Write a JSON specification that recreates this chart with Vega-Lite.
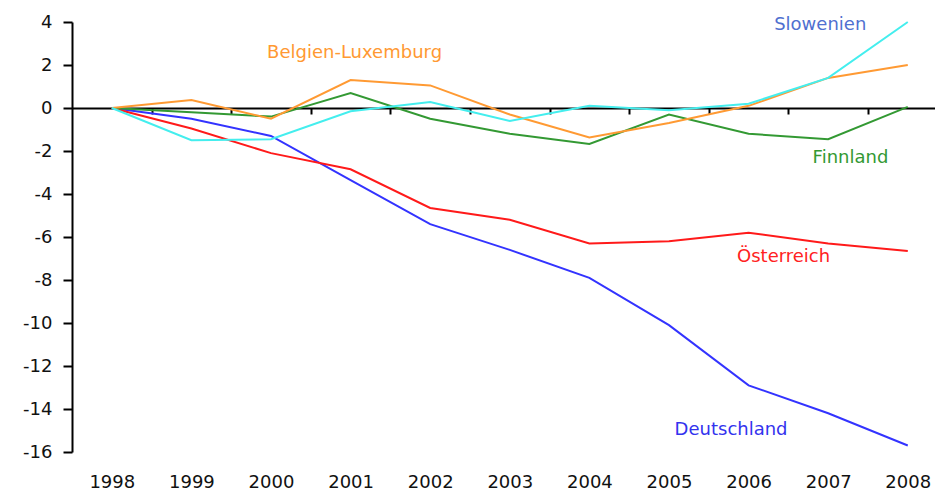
{
  "$schema": "https://vega.github.io/schema/vega-lite/v6.json",
  "width": 863,
  "height": 430,
  "autosize": {"type": "none"},
  "padding": {"left": 72, "top": 22, "right": 0, "bottom": 41},
  "background": "white",
  "config": {"view": {"stroke": null}, "font": "DejaVu Sans", "axis": {"grid": false}},
  "datasets": {
    "reihen": [
      {"Land": "Deutschland", "Jahr": 1998, "Wert": 0},
      {"Land": "Deutschland", "Jahr": 1999, "Wert": -0.5},
      {"Land": "Deutschland", "Jahr": 2000, "Wert": -1.3},
      {"Land": "Deutschland", "Jahr": 2001, "Wert": -3.35},
      {"Land": "Deutschland", "Jahr": 2002, "Wert": -5.4},
      {"Land": "Deutschland", "Jahr": 2003, "Wert": -6.6},
      {"Land": "Deutschland", "Jahr": 2004, "Wert": -7.9},
      {"Land": "Deutschland", "Jahr": 2005, "Wert": -10.1},
      {"Land": "Deutschland", "Jahr": 2006, "Wert": -12.9},
      {"Land": "Deutschland", "Jahr": 2007, "Wert": -14.2},
      {"Land": "Deutschland", "Jahr": 2008, "Wert": -15.7},
      {"Land": "Österreich", "Jahr": 1998, "Wert": 0},
      {"Land": "Österreich", "Jahr": 1999, "Wert": -0.95},
      {"Land": "Österreich", "Jahr": 2000, "Wert": -2.1},
      {"Land": "Österreich", "Jahr": 2001, "Wert": -2.85},
      {"Land": "Österreich", "Jahr": 2002, "Wert": -4.65},
      {"Land": "Österreich", "Jahr": 2003, "Wert": -5.2},
      {"Land": "Österreich", "Jahr": 2004, "Wert": -6.3},
      {"Land": "Österreich", "Jahr": 2005, "Wert": -6.2},
      {"Land": "Österreich", "Jahr": 2006, "Wert": -5.8},
      {"Land": "Österreich", "Jahr": 2007, "Wert": -6.3},
      {"Land": "Österreich", "Jahr": 2008, "Wert": -6.65},
      {"Land": "Finnland", "Jahr": 1998, "Wert": 0},
      {"Land": "Finnland", "Jahr": 1999, "Wert": -0.2},
      {"Land": "Finnland", "Jahr": 2000, "Wert": -0.4},
      {"Land": "Finnland", "Jahr": 2001, "Wert": 0.7},
      {"Land": "Finnland", "Jahr": 2002, "Wert": -0.5},
      {"Land": "Finnland", "Jahr": 2003, "Wert": -1.2},
      {"Land": "Finnland", "Jahr": 2004, "Wert": -1.67},
      {"Land": "Finnland", "Jahr": 2005, "Wert": -0.3},
      {"Land": "Finnland", "Jahr": 2006, "Wert": -1.2},
      {"Land": "Finnland", "Jahr": 2007, "Wert": -1.45},
      {"Land": "Finnland", "Jahr": 2008, "Wert": 0.05},
      {"Land": "Belgien-Luxemburg", "Jahr": 1998, "Wert": 0},
      {"Land": "Belgien-Luxemburg", "Jahr": 1999, "Wert": 0.37},
      {"Land": "Belgien-Luxemburg", "Jahr": 2000, "Wert": -0.5},
      {"Land": "Belgien-Luxemburg", "Jahr": 2001, "Wert": 1.3},
      {"Land": "Belgien-Luxemburg", "Jahr": 2002, "Wert": 1.05},
      {"Land": "Belgien-Luxemburg", "Jahr": 2003, "Wert": -0.3},
      {"Land": "Belgien-Luxemburg", "Jahr": 2004, "Wert": -1.37},
      {"Land": "Belgien-Luxemburg", "Jahr": 2005, "Wert": -0.7},
      {"Land": "Belgien-Luxemburg", "Jahr": 2006, "Wert": 0.1},
      {"Land": "Belgien-Luxemburg", "Jahr": 2007, "Wert": 1.4},
      {"Land": "Belgien-Luxemburg", "Jahr": 2008, "Wert": 2.0},
      {"Land": "Slowenien", "Jahr": 1998, "Wert": 0},
      {"Land": "Slowenien", "Jahr": 1999, "Wert": -1.5},
      {"Land": "Slowenien", "Jahr": 2000, "Wert": -1.45},
      {"Land": "Slowenien", "Jahr": 2001, "Wert": -0.15},
      {"Land": "Slowenien", "Jahr": 2002, "Wert": 0.28},
      {"Land": "Slowenien", "Jahr": 2003, "Wert": -0.6},
      {"Land": "Slowenien", "Jahr": 2004, "Wert": 0.1},
      {"Land": "Slowenien", "Jahr": 2005, "Wert": -0.1},
      {"Land": "Slowenien", "Jahr": 2006, "Wert": 0.2},
      {"Land": "Slowenien", "Jahr": 2007, "Wert": 1.4},
      {"Land": "Slowenien", "Jahr": 2008, "Wert": 4.0}
    ],
    "beschriftung": [
      {"Land": "Belgien-Luxemburg", "Jahr": 2001.05, "Wert": 2.56},
      {"Land": "Slowenien", "Jahr": 2006.9, "Wert": 3.86},
      {"Land": "Finnland", "Jahr": 2007.28, "Wert": -2.33},
      {"Land": "Österreich", "Jahr": 2006.44, "Wert": -6.93},
      {"Land": "Deutschland", "Jahr": 2005.78, "Wert": -14.98}
    ]
  },
  "layer": [
    {
      "data": {"name": "reihen"},
      "mark": {"type": "line", "strokeWidth": 2},
      "encoding": {
        "x": {
          "field": "Jahr", "type": "quantitative",
          "scale": {"domain": [1997.5, 2008.342], "nice": false, "zero": false},
          "axis": {
            "orient": "bottom",
            "values": [1998, 1999, 2000, 2001, 2002, 2003, 2004, 2005, 2006, 2007, 2008],
            "format": "d", "domain": false, "ticks": false, "title": null,
            "labelFontSize": 18, "labelColor": "#111111", "labelPadding": 21,
            "labelFlush": false, "labelOverlap": false
          }
        },
        "y": {
          "field": "Wert", "type": "quantitative",
          "scale": {"domain": [-16, 4], "nice": false, "zero": false},
          "axis": {
            "values": [-16, -14, -12, -10, -8, -6, -4, -2, 0, 2, 4],
            "labelExpr": "(datum.value < 0 ? '-' : '') + abs(datum.value)",
            "title": null, "domainColor": "black", "domainWidth": 2,
            "tickColor": "black", "tickWidth": 2, "tickSize": 9,
            "labelPadding": 11, "labelFontSize": 18, "labelColor": "#111111"
          }
        },
        "color": {
          "field": "Land", "type": "nominal",
          "scale": {
            "domain": ["Deutschland", "Österreich", "Finnland", "Belgien-Luxemburg", "Slowenien"],
            "range": ["#3333FF", "#FF1A1A", "#339933", "#FF9A33", "#44EEEE"]
          },
          "legend": null
        }
      }
    },
    {
      "data": {"name": "beschriftung"},
      "mark": {"type": "text", "fontSize": 18, "align": "center", "baseline": "middle"},
      "encoding": {
        "x": {
          "field": "Jahr", "type": "quantitative",
          "axis": {
            "orient": "bottom",
            "values": [1998.5, 1999.5, 2000.5, 2001.5, 2002.5, 2003.5, 2004.5, 2005.5, 2006.5, 2007.5],
            "labels": false, "offset": -344, "title": null,
            "domainColor": "black", "domainWidth": 2,
            "tickColor": "black", "tickWidth": 2, "tickSize": 6
          }
        },
        "y": {"field": "Wert", "type": "quantitative"},
        "text": {"field": "Land"},
        "color": {
          "field": "Land", "type": "nominal",
          "scale": {
            "domain": ["Deutschland", "Österreich", "Finnland", "Belgien-Luxemburg", "Slowenien"],
            "range": ["#3333EE", "#FF2222", "#339933", "#FF9933", "#5070D0"]
          },
          "legend": null
        }
      }
    }
  ],
  "resolve": {"axis": {"x": "independent"}, "scale": {"color": "independent"}}
}
